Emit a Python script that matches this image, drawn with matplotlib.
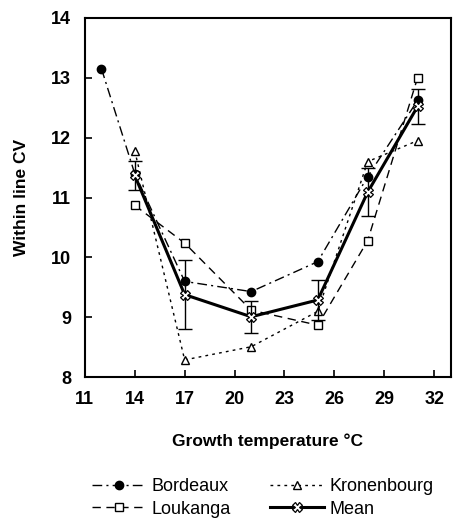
import matplotlib.pyplot as plt

plt.rcParams['font.family'] = ['Liberation Sans', 'DejaVu Sans']

temp_b = [12, 14, 17, 21, 25, 28, 31]
bordeaux = [13.15, 11.40, 9.60, 9.43, 9.93, 11.35, 12.62]
temp = [14, 17, 21, 25, 28, 31]
kronenbourg = [11.78, 8.29, 8.51, 9.10, 11.60, 11.95]
loukanga = [10.87, 10.24, 9.12, 8.87, 10.28, 13.00]
mean = [11.37, 9.38, 9.01, 9.29, 11.09, 12.52]
mean_err = [0.24, 0.57, 0.27, 0.33, 0.40, 0.29]

fig = plt.figure(figsize=(4.61, 5.24), dpi=100)
ax = fig.add_axes([0.184, 0.280, 0.794, 0.686])

ax.plot(temp_b, bordeaux, color='black', lw=1.0, dashes=(7, 3, 1.5, 3),
        marker='o', ms=6, mfc='black', mec='black', label='Bordeaux')
ax.plot(temp, kronenbourg, color='black', lw=1.0, dashes=(2, 3),
        marker='^', ms=6, mfc='white', mec='black', label='Kronenbourg')
ax.plot(temp, loukanga, color='black', lw=1.0, dashes=(6, 4),
        marker='s', ms=6, mfc='white', mec='black', label='Loukanga')
ax.errorbar(temp, mean, yerr=mean_err, fmt='none', ecolor='black',
            elinewidth=1.0, capsize=5, capthick=1.0)
ax.plot(temp, mean, color='black', lw=2.2, marker='X', ms=7, mfc='white',
        mec='black', mew=0.9, label='Mean')

ax.set_xlim(11, 33)
ax.set_ylim(8, 14)
ax.set_xticks([11, 14, 17, 20, 23, 26, 29, 32])
ax.set_yticks([8, 9, 10, 11, 12, 13, 14])
ax.tick_params(direction='in', length=5, width=1.2, labelsize=13, pad=10)
for lab in ax.get_xticklabels() + ax.get_yticklabels():
    lab.set_fontweight('bold')
for sp in ax.spines.values():
    sp.set_linewidth(1.5)

ax.set_xlabel('Growth temperature °C', fontsize=12.5, fontweight='bold', labelpad=18)
ax.set_ylabel('Within line CV', fontsize=12.5, fontweight='bold', labelpad=16)

h, l = ax.get_legend_handles_labels()
order = [0, 2, 1, 3]
fig.legend([h[i] for i in order], [l[i] for i in order], ncol=2,
           loc='center', bbox_to_anchor=(0.57, 0.05), frameon=False,
           fontsize=13, handlelength=3.0, columnspacing=2.2,
           handletextpad=0.3, labelspacing=0.3)

fig.savefig('out.png', dpi=100)
